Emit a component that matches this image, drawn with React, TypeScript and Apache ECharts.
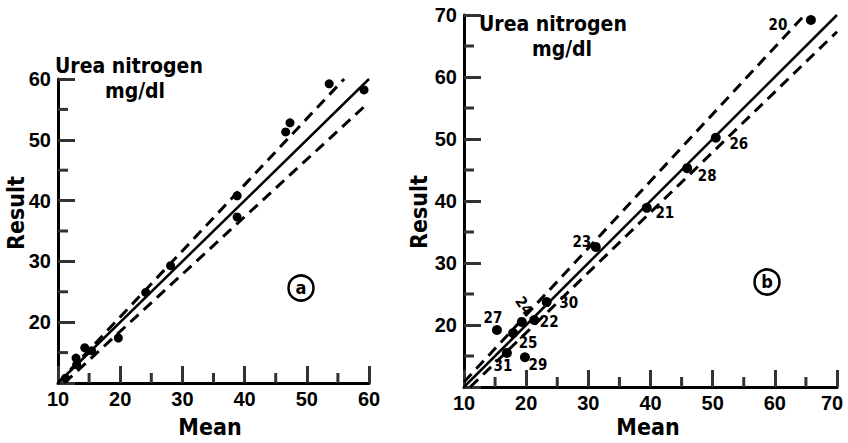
import React, { useEffect, useRef } from "react";
import * as echarts from "echarts";

// Panel (a) observations
const aMean = [59.2, 53.6, 47.3, 46.6, 38.8, 38.8, 28.1, 24.1, 19.7, 14.3, 15.4, 12.9, 13.0, 11.2];
const aResult = [58.2, 59.2, 52.8, 51.3, 40.8, 37.3, 29.3, 24.9, 17.4, 15.8, 15.3, 14.1, 13.0, 10.8];

// Panel (b) observations (laboratory numbers)
const bLabels = ["20", "26", "28", "21", "23", "30", "22", "24", "25", "27", "31", "29"];
const bMean = [65.8, 50.5, 45.9, 39.4, 31.2, 23.3, 21.3, 19.3, 17.9, 15.3, 16.9, 19.8];
const bResult = [69.2, 50.2, 45.3, 38.9, 32.6, 23.7, 20.8, 20.5, 18.7, 19.2, 15.5, 14.8];

// Reference lines (end points)
const aIdentity = [[10, 10], [60, 60]];
const aUpper = [[10, 10], [56, 60]];
const aLower = [[11, 10], [59.7, 55.9]];
const bIdentity = [[10, 10], [70, 70]];
const bUpper = [[10, 10.8], [64.8, 70]];
const bLower = [[11, 10], [70, 67.3]];

// Axis ranges and minor tick positions
const axisMin = 10;
const aMax = 60;
const bMax = 70;
const tickStep = 10;
const aMinorTicks = [15, 25, 35, 45, 55];
const bMinorTicks = [15, 25, 35, 45, 55, 65];

// label placement for panel (b) (pixel offsets, rotation)
const bLabelOffsets: number[][] = [
  [-33, 5], [23, 6], [20, 8], [18, 5], [-14, -5], [22, 1],
  [15, 2], [-12, -11], [15, 10], [-4, -12], [-4, 13], [13, 8],
];
const bLabelRotate = [0, 0, 0, 0, 0, 0, 0, -55, 0, 0, 0, 0];

const FONT = "DejaVu Sans Condensed";
const MAJOR = 17;
const MINOR = 10;
const TICK_COLOR = "#333";

function makeAxis(gridIndex: number, max: number, isY: boolean) {
  return {
    type: "value",
    gridIndex,
    min: axisMin,
    max,
    interval: tickStep,
    axisLine: { show: true, onZero: false, lineStyle: { color: "#000", width: 3 } },
    axisTick: { show: true, inside: true, length: MAJOR, lineStyle: { color: TICK_COLOR, width: 3 } },
    splitLine: { show: false },
    axisLabel: {
      color: "#000",
      fontSize: 20,
      fontWeight: "bold",
      margin: isY ? 7 : 6,
      formatter: (v: number) => {
        if (isY && v === axisMin) return "";
        if (!isY && v === bMax) return "{e|" + v + "}";
        return String(v);
      },
      rich: {
        e: { fontSize: 20, fontWeight: "bold", color: "#000", padding: [0, 10, 0, 0] },
      },
    },
  };
}

// short inward minor ticks, rect symbols placed by the axes' scales
function minorTickSeries(idx: number, values: number[]) {
  const data: any[] = [];
  values.forEach((v) => {
    data.push({ value: [v, axisMin], symbolSize: [3, MINOR], symbolOffset: [0, -MINOR / 2] });
    data.push({ value: [axisMin, v], symbolSize: [MINOR, 3], symbolOffset: [MINOR / 2, 0] });
  });
  return {
    type: "scatter",
    xAxisIndex: idx,
    yAxisIndex: idx,
    symbol: "rect",
    itemStyle: { color: TICK_COLOR, opacity: 1 },
    data,
  };
}

function refLine(idx: number, data: number[][], dashed: boolean) {
  return {
    type: "line",
    xAxisIndex: idx,
    yAxisIndex: idx,
    data,
    symbol: "none",
    lineStyle: dashed
      ? { color: "#000", width: 3, type: [11, 7] }
      : { color: "#000", width: 2.5 },
  };
}

const txt = (extra: any) => ({
  fontFamily: FONT,
  fontWeight: "bold",
  fill: "#000",
  ...extra,
});

export default function App() {
  const ref = useRef<HTMLDivElement>(null);
  useEffect(() => {
    if (!ref.current) return;
    const chart = echarts.init(ref.current, null, { renderer: "svg" });
    const option: any = {
      animation: false,
      grid: [
        { left: 58, top: 79, width: 311, height: 304 },
        { left: 464, top: 15, width: 373, height: 372 },
      ],
      xAxis: [makeAxis(0, aMax, false), makeAxis(1, bMax, false)],
      yAxis: [makeAxis(0, aMax, true), makeAxis(1, bMax, true)],
      series: [
        {
          type: "scatter",
          xAxisIndex: 0,
          yAxisIndex: 0,
          symbolSize: 9,
          itemStyle: { color: "#000", opacity: 1 },
          data: aMean.map((x, i) => [x, aResult[i]]),
        },
        minorTickSeries(0, aMinorTicks),
        minorTickSeries(1, bMinorTicks),
        refLine(0, aIdentity, false),
        refLine(0, aUpper, true),
        refLine(0, aLower, true),
        refLine(1, bIdentity, false),
        refLine(1, bUpper, true),
        refLine(1, bLower, true),
        {
          type: "scatter",
          xAxisIndex: 1,
          yAxisIndex: 1,
          symbolSize: 10,
          itemStyle: { color: "#000", opacity: 1 },
          label: {
            show: true,
            position: "inside",
            formatter: "{b}",
            color: "#000",
            textBorderWidth: 0,
            fontSize: 15,
            fontWeight: "bold",
            fontFamily: FONT,
            align: "center",
            verticalAlign: "middle",
          },
          data: bMean.map((x, i) => ({
            name: bLabels[i],
            value: [x, bResult[i]],
            label: { offset: bLabelOffsets[i], rotate: bLabelRotate[i] },
          })),
        },
      ],
      graphic: [
        { type: "text", left: 55, top: 55, style: txt({ text: "Urea nitrogen", fontSize: 21 }) },
        { type: "text", x: 135, y: 91, style: txt({ text: "mg/dl", fontSize: 21, align: "center", verticalAlign: "middle" }) },
        { type: "text", left: 479, top: 13, style: txt({ text: "Urea nitrogen", fontSize: 21 }) },
        { type: "text", x: 562, y: 49, style: txt({ text: "mg/dl", fontSize: 21, align: "center", verticalAlign: "middle" }) },
        { type: "text", x: 16, y: 213, rotation: Math.PI / 2, style: txt({ text: "Result", fontSize: 23, align: "center", verticalAlign: "middle" }) },
        { type: "text", x: 419, y: 212, rotation: Math.PI / 2, style: txt({ text: "Result", fontSize: 23, align: "center", verticalAlign: "middle" }) },
        { type: "text", x: 210, y: 427, style: txt({ text: "Mean", fontSize: 23, align: "center", verticalAlign: "middle" }) },
        { type: "text", x: 648, y: 427, style: txt({ text: "Mean", fontSize: 23, align: "center", verticalAlign: "middle" }) },
        { type: "circle", shape: { cx: 301, cy: 288, r: 12.5 }, style: { fill: "none", stroke: "#000", lineWidth: 2.5 } },
        { type: "text", x: 301, y: 287, style: txt({ text: "a", fontSize: 18, align: "center", verticalAlign: "middle" }) },
        { type: "circle", shape: { cx: 767, cy: 282, r: 12.5 }, style: { fill: "none", stroke: "#000", lineWidth: 2.5 } },
        { type: "text", x: 767, y: 281, style: txt({ text: "b", fontSize: 18, align: "center", verticalAlign: "middle" }) },
      ],
    };
    chart.setOption(option);
    return () => chart.dispose();
  }, []);
  return (
    <div
      ref={ref}
      style={{ position: "absolute", left: 0, top: 0, width: 848, height: 443 }}
    />
  );
}
